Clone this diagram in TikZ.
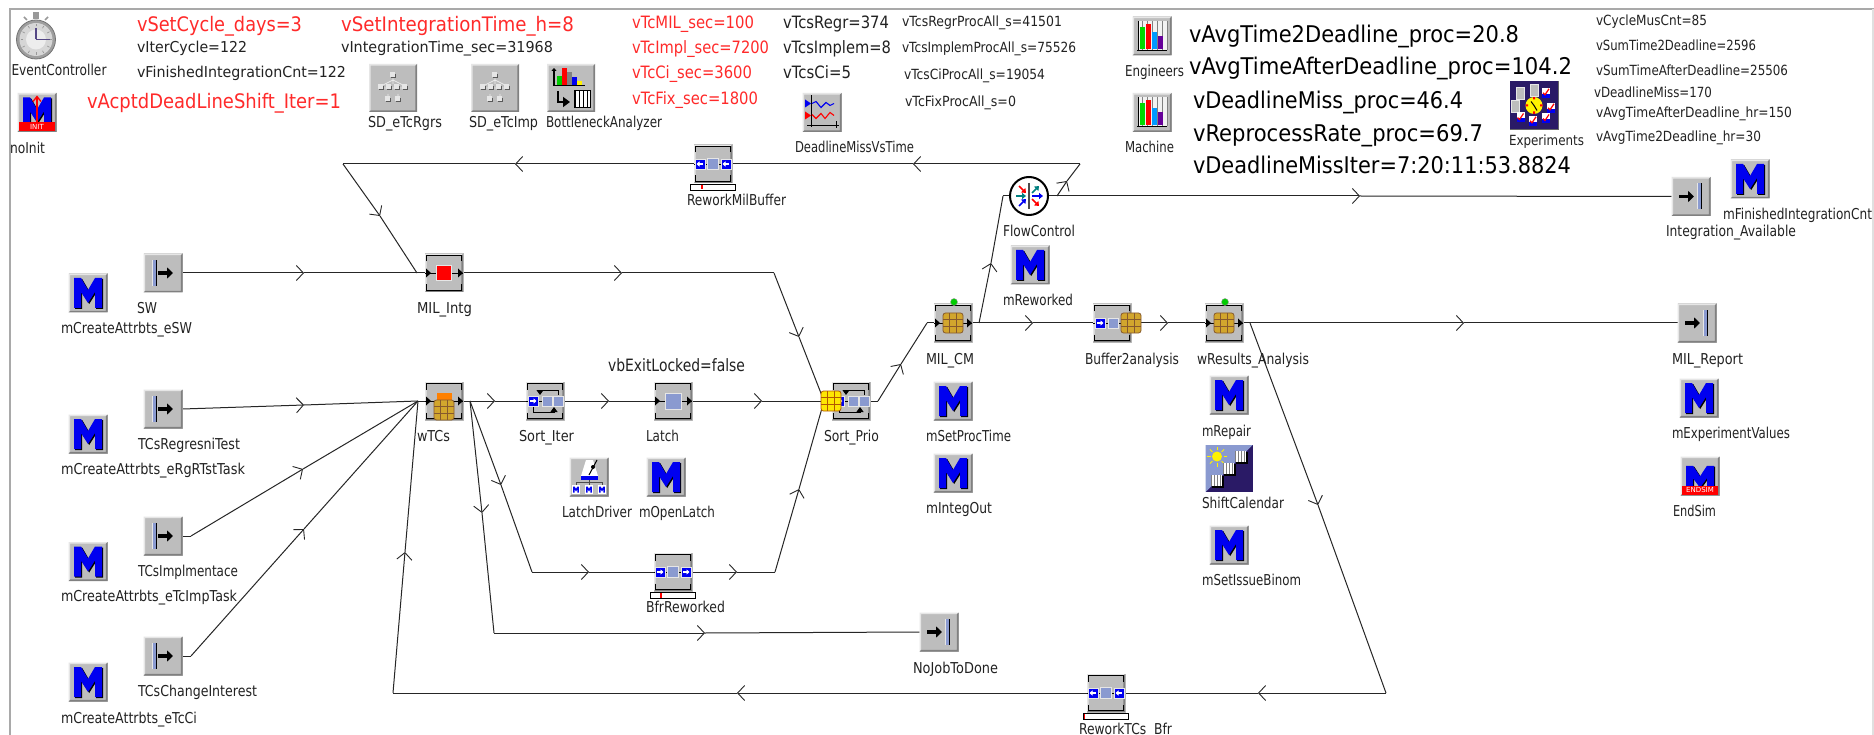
\documentclass[tikz,border=0pt]{standalone}
\usepackage{fontspec}
\usepackage{graphicx}
\setmainfont{DejaVu Sans}
\usetikzlibrary{arrows.meta,calc}
\definecolor{txt}{HTML}{222222}
\definecolor{rd}{HTML}{FF2A2A}
\definecolor{icg}{HTML}{BDBDBD}
\definecolor{ichi}{HTML}{E6E6E6}
\definecolor{icdk}{HTML}{808080}
\definecolor{mb}{HTML}{0000F0}
\definecolor{bg}{HTML}{8A9AD0}
\definecolor{frm}{HTML}{A9A9A9}
\definecolor{navy}{HTML}{2A1A66}
\pgfdeclarelayer{back}
\pgfsetlayers{back,main}
\tikzset{
  lab/.style={anchor=base west,inner sep=0pt,outer sep=0pt},
  ico/.style={rectangle,fill=icg,minimum size=39pt,inner sep=0pt,outer sep=0pt},
  bigico/.style={rectangle,fill=icg,minimum size=48pt,inner sep=0pt,outer sep=0pt},
  wire/.style={draw=black!85,line width=1pt},
  tip/.style={-{Straight Barb[length=7pt,width=15pt,line width=0.9pt]}},
}
\newcounter{tl}
\newcommand\tx[6][txt]{\stepcounter{tl}\node[lab,text=#1] (t\thetl) at (#2,#3+0.36*#5) {\fontsize{#5}{#5}\selectfont\resizebox{#4pt}{\height}{#6}};}
% wire with a chevron at the named middle point
\newcommand\wt[3]{\draw[wire,tip] (#1) -- (#2); \draw[wire] (#2) -- (#3);}
\newcommand\bev[1][19.5]{\pgfmathsetmacro\bo{#1}\pgfmathsetmacro\bi{#1-1.6}
  \fill[ichi] (-\bo,\bo)--(-\bo,-\bo)--(\bo,-\bo)--(\bi,-\bi)--(-\bi,-\bi)--(-\bi,\bi)--cycle;
  \fill[icdk] (-\bo,\bo)--(\bo,\bo)--(\bo,-\bo)--(\bi,-\bi)--(\bi,\bi)--(-\bi,\bi)--cycle;}
\newcommand\Mpoly{(-14,-15)--(-7,-15)--(0,-3)--(7,-15)--(14,-15)--(14,15)--(7,15)--(7,-1)--(0,10)--(-7,-1)--(-7,15)--(-14,15)--cycle}
\newcommand\Mshape{\fill[black,shift={(1.2,1)}] \Mpoly; \fill[mb] \Mpoly;}
\newcommand\micon[3]{\node[ico] (#1) at (#2,#3) {};
  \begin{scope}[shift={(#2,#3)}]\bev\Mshape\end{scope}}
\newcommand\arrowicon[1]{\draw[black,line width=3.2pt,-{Triangle[length=6pt,width=11pt]}] (#1,0) -- ++(15,0);}
\newcommand\srcicon[3]{\node[ico] (#1) at (#2,#3) {};
  \begin{scope}[shift={(#2,#3)}]\bev
  \fill[black] (-7,-13) rectangle (-5.6,13);\fill[bg] (-11.5,-13) rectangle (-7,13);\fill[ichi] (-11.5,-13) rectangle (-10.5,13);
  \arrowicon{-5}\end{scope}}
\newcommand\snkicon[3]{\node[ico] (#1) at (#2,#3) {};
  \begin{scope}[shift={(#2,#3)}]\bev
  \fill[black] (10,-13) rectangle (11.4,13);\fill[bg] (5.5,-13) rectangle (10,13);\fill[ichi] (5.5,-13) rectangle (6.5,13);
  \arrowicon{-12}\end{scope}}
\newcommand\block{\bev[19]
  \draw[black,line width=1.7pt] (-17.5,-11.5)--(-17.5,-17.5)--(17.5,-17.5)--(17.5,-11.5);
  \draw[black,line width=1.7pt] (-17.5,11.5)--(-17.5,17.5)--(17.5,17.5)--(17.5,11.5);
  \draw[black,line width=0.9pt] (-19,0)--(19,0);}
\newcommand\ports{\fill[black] (-18,-4.5)--(-13,0)--(-18,4.5)--cycle;\fill[black] (14,-4.5)--(19,0)--(14,4.5)--cycle;}
\newcommand\sq[4]{\fill[#4,draw=ichi,line width=0.8pt] (#1-#3,#2-#3) rectangle (#1+#3,#2+#3);}
\newcommand\waffle[5]{\begin{scope}[shift={(#1,#2)}]
  \filldraw[fill=#3,draw=#4,line width=0.8pt,rounded corners=2.5pt] (-#5,-#5) rectangle (#5,#5);
  \draw[#4,line width=0.9pt] (-#5/3,-#5)--(-#5/3,#5) (#5/3,-#5)--(#5/3,#5) (-#5,-#5/3)--(#5,-#5/3) (-#5,#5/3)--(#5,#5/3);\end{scope}}
\newcommand\bluebtn[2]{\begin{scope}[shift={(#1,0)}]\fill[mb,draw=ichi,line width=0.6pt] (-5,-5) rectangle (5,5);
  \draw[white,line width=1.2pt,-{Triangle[length=3pt,width=5pt]}] (-3*#2,0)--(3.5*#2,0);\end{scope}}
\newcommand\sorticon{\sq{2}{0}{5}{bg}\sq{13}{0}{5}{bg}
  \draw[black,line width=0.9pt,-{Triangle[length=5pt,width=7pt]}] (13,-6)--(13,-11)--(-5,-11)--(-5,-6);
  \draw[black,line width=0.9pt,-{Triangle[length=5pt,width=7pt]}] (-12,6)--(-12,11)--(9,11)--(9,6);
  \bluebtn{-12}{1}}
\newcommand\barbelow[1]{\fill[white,draw=black,line width=0.9pt] (-22.5,20.5) rectangle (22.5,26);\draw[red,line width=1.1pt] (#1,21)--(#1,25.5);}
\newcommand\chart[3]{\node[ico] (#1) at (#2,#3) {};
  \begin{scope}[shift={(#2,#3)}]\bev
  \fill[white!80!icg] (-14,-15) rectangle (15,14);
  \draw[icdk,line width=0.4pt,step=5] (-14,-15) grid (15,14);
  \fill[green!85!black] (-12,-9) rectangle (-7,13);\fill[red] (-6.5,-12) rectangle (-1,13);
  \fill[blue!40!cyan] (0,-4) rectangle (5,13);\fill[violet!80!blue] (5.5,0) rectangle (11,13);
  \draw[black,line width=0.8pt] (-15,14)--(15,14);\draw[black,line width=0.8pt] (-14,-15)--(-14,15);\end{scope}}
\newcommand\sdicon[3]{\node[bigico] (#1) at (#2,#3) {};
  \begin{scope}[shift={(#2,#3)}]\bev[24]
  \draw[white!70!icg,line width=0.8pt] (0,-11)--(0,-4) (-12,0)--(12,0) (-5,6)--(-5,10) (5,6)--(5,10) (0,-8)--(-12,-2) (0,-8)--(12,-2);
  \foreach \q/\r in {0/-13,-12/-1,-4/-1,4/-1,12/-1,-5/11,5/11}{
   \fill[black!65] (\q-2,\r-1) rectangle (\q+3,\r+3.5);\fill[ichi] (\q-3,\r-2.5) rectangle (\q+2,\r+2);}
  \end{scope}}
\begin{document}
\begin{tikzpicture}[x=1pt,y=-1pt]
\useasboundingbox (0,0) rectangle (1874,735);
\begin{pgfonlayer}{back}
\fill[white] (0,0) rectangle (1874,735);
\end{pgfonlayer}
% ---------- frame ----------
\draw[frm,line width=2pt] (10,735)--(10,9.5)--(1874,9.5);
\draw[black!12,line width=1.5pt] (1873,9.5)--(1873,735);
% ---------- top left ----------
\fill[black!40] (33,12.5) rectangle (39,19);
\draw[black!40,line width=1.6pt] (24,17)--(27,20) (48,17)--(45,20);
\node[circle,fill=black!38,draw=black!55,line width=0.8pt,minimum size=39pt,inner sep=0pt] (ec) at (36,39.5) {};
\fill[black!16] (36,39.5) circle (16.5);
\fill[black!7] (36,39.5) circle (10);
\foreach \a in {0,30,...,330}{\draw[black!40,line width=0.7pt] (36,39.5)++(\a:13)--++(\a:2.5);}
\draw[navy!80,line width=1.4pt] (36,39.5)--(50,39.5) (36,39.5)--(36,28);
\tx{11.5}{70}{95}{15}{EventController}
\micon{noinit}{37}{112.5}
\begin{scope}[shift={(37,112.5)}]
\fill[red] (-18,9.5) rectangle (18,18.5);
\draw[red,line width=1.3pt,-{Straight Barb[length=5pt,width=8pt]}] (0,10)--(0,-17);
\node[inner sep=0pt,text=white] (noinittxt) at (0,14) {\fontsize{7}{7}\selectfont INIT};
\end{scope}
\tx{10}{148}{35}{15}{noInit}
\tx[rd]{137}{24}{165}{20}{vSetCycle\_days=3}
\tx{137}{47}{110}{15}{vIterCycle=122}
\tx{137}{72}{209}{15}{vFinishedIntegrationCnt=122}
\tx[rd]{87}{101}{254}{20}{vAcptdDeadLineShift\_Iter=1}
\tx[rd]{341}{24}{233}{20}{vSetIntegrationTime\_h=8}
\tx{341}{47}{212}{15}{vIntegrationTime\_sec=31968}
\sdicon{sda}{393}{88}
\tx{368}{122}{74}{15}{SD\_eTcRgrs}
\sdicon{sdb}{495}{88}
\tx{469}{122}{69}{15}{SD\_eTcImp}
\node[bigico] (bot) at (571,88) {};
\begin{scope}[shift={(571,88)}]\bev[24]
\draw[black,line width=1.2pt,-{Triangle[length=3pt,width=5pt]}] (-17,-3)--(-17,-20);
\fill[green!80!black] (-14,-12) rectangle (-9,-3);\fill[red] (-9,-20) rectangle (-4,-3);
\fill[black!50] (-4,-16) rectangle (1,-3);\fill[mb] (1,-11) rectangle (6,-3);\fill[yellow] (6,-7) rectangle (11,-3);
\draw[black,line width=1.2pt] (-18,-2.5)--(14,-2.5);
\draw[black,line width=2.6pt,-{Triangle[length=7pt,width=10pt]}] (-13,3)--(-13,14)--(-1,14);
\fill[white] (3,2) rectangle (19,19);
\draw[black,line width=0.8pt,xstep=4,ystep=4.25] (3,2) grid (19,19);
\draw[black,line width=0.8pt] (3,2) rectangle (19,19);
\end{scope}
\tx{546}{122}{116}{15}{BottleneckAnalyzer}
\tx[rd]{632}{22}{122}{17}{vTcMIL\_sec=100}
\tx[rd]{632}{47}{137}{17}{vTcImpl\_sec=7200}
\tx[rd]{632}{72}{120}{17}{vTcCi\_sec=3600}
\tx[rd]{632}{98}{126}{17}{vTcFix\_sec=1800}
\tx{783}{22}{106}{17}{vTcsRegr=374}
\tx{783}{47}{108}{17}{vTcsImplem=8}
\tx{783}{72}{68}{17}{vTcsCi=5}
\tx{902}{21}{160}{14}{vTcsRegrProcAll\_s=41501}
\tx{902}{47}{174}{14}{vTcsImplemProcAll\_s=75526}
\tx{904}{74}{141}{14}{vTcsCiProcAll\_s=19054}
\tx{905}{101}{111}{14}{vTcFixProcAll\_s=0}
\node[ico] (dlm) at (822,112.5) {};
\begin{scope}[shift={(822,112.5)}]\bev
\draw[black,line width=0.9pt] (-15,13)--(17,13) (-11,-17)--(-11,15);
\fill[mb] (-17,-13)--(-11,-9)--(-17,-5)--cycle;\fill[red] (-17,-1)--(-11,3)--(-17,7)--cycle;
\draw[mb,line width=1.1pt] (-10,-9)--(-6,-11)--(-1,-5)--(4,-10)--(8,-7)--(12,-9);
\draw[red,line width=1.1pt] (-10,2)--(-6,6)--(-1,1)--(3,6)--(8,0)--(12,3);
\draw[black,line width=0.7pt] (14,9)--(14,16);
\end{scope}
\tx{795}{147}{119}{15}{DeadlineMissVsTime}
\chart{engineers}{1152}{36}
\tx{1125}{71}{59}{15}{Engineers}
\chart{machine}{1152}{112.5}
\tx{1125}{147}{49}{15}{Machine}
\tx[black]{1189}{34}{330}{23}{vAvgTime2Deadline\_proc=20.8}
\tx[black]{1189}{66}{383}{23}{vAvgTimeAfterDeadline\_proc=104.2}
\tx[black]{1193}{100}{270}{23}{vDeadlineMiss\_proc=46.4}
\tx[black]{1193}{133}{290}{23}{vReprocessRate\_proc=69.7}
\tx[black]{1193}{165}{378}{23}{vDeadlineMissIter=7:20:11:53.8824}
\node[bigico,fill=navy] (exper) at (1534,105.5) {};
\begin{scope}[shift={(1534,105.5)}]
\draw[black!60,line width=1pt] (-24,24)--(24,24)--(24,-24);
\fill[yellow] (0,0) circle (8.5);\draw[black,line width=1pt] (0,0)--(3,5) (0,0)--(-3,-4);
\fill[red] (-1,-8.5) rectangle (1,-6) (-1,6) rectangle (1,8.5) (-8.5,-1) rectangle (-6,1) (6,-1) rectangle (8.5,1);
\foreach \q/\r in {-13.5/-12,0/-15.5,-18.5/1}{\fill[icg,draw=ichi,line width=0.5pt] (\q-4,\r-6) rectangle (\q+4,\r+6);}
\foreach \q/\r in {12/-12.7,17/2.3,12/13,-1/15.3,-13.5/12}{\fill[white] (\q-4,\r-5) rectangle (\q+4,\r+5);\fill[mb] (\q-4,\r+1) rectangle (\q+4,\r+5);\draw[red,line width=1.2pt] (\q-3,\r)--(\q-1,\r+2)--(\q+3,\r-4);}
\end{scope}
\tx{1509}{140}{75}{14}{Experiments}
\tx{1596}{20}{111}{14}{vCycleMusCnt=85}
\tx{1596}{45}{160}{14}{vSumTime2Deadline=2596}
\tx{1596}{70}{192}{14}{vSumTimeAfterDeadline=25506}
\tx{1594}{92}{118}{14}{vDeadlineMiss=170}
\tx{1596}{112}{196}{14}{vAvgTimeAfterDeadline\_hr=150}
\tx{1596}{136}{165}{14}{vAvgTime2Deadline\_hr=30}
\snkicon{ia}{1691}{196.5}
\tx{1666}{231}{130}{15}{Integration\_Available}
\micon{mfin}{1750}{179}
\tx{1723}{214}{149}{15}{mFinishedIntegrationCnt}
% ---------- left column ----------
\micon{ma}{88}{293}\tx{61}{328}{131}{15}{mCreateAttrbts\_eSW}
\srcicon{sw}{163}{273}\tx{137}{308}{20}{15}{SW}
\micon{mb1}{88}{434}\tx{61}{469}{184}{15}{mCreateAttrbts\_eRgRTstTask}
\srcicon{tr}{163}{409}\tx{138}{444}{102}{15}{TCsRegresniTest}
\micon{mc}{88}{561.5}\tx{61}{596}{176}{15}{mCreateAttrbts\_eTcImpTask}
\srcicon{ti}{163}{536}\tx{138}{571}{100}{15}{TCsImplmentace}
\micon{md}{88}{682}\tx{61}{718}{136}{15}{mCreateAttrbts\_eTcCi}
\srcicon{tc}{163}{656}\tx{138}{691}{119}{15}{TCsChangeInterest}
% ---------- processes ----------
\node[ico] (mi) at (444,273) {};
\begin{scope}[shift={(444,273)}]\block\ports\sq{0}{0}{7.5}{red}\end{scope}
\tx{417}{308}{55}{15}{MIL\_Intg}
\node[ico] (wt) at (444,401) {};
\begin{scope}[shift={(444,401)}]\block\ports\fill[orange] (-7.5,-8) rectangle (7.5,6);\waffle{0}{9}{brown!70!yellow}{brown!70!black}{10}\end{scope}
\tx{417}{436}{33}{15}{wTCs}
\node[ico] (si) at (545,401) {};
\begin{scope}[shift={(545,401)}]\block\sorticon\end{scope}
\tx{519}{436}{55}{15}{Sort\_Iter}
\node[ico] (la) at (673,401) {};
\begin{scope}[shift={(673,401)}]\block\ports\sq{0}{0}{8}{bg}\end{scope}
\tx{646}{436}{33}{15}{Latch}
\tx{608}{365}{137}{17}{vbExitLocked=false}
\node[ico] (sp) at (851,401) {};
\begin{scope}[shift={(851,401)}]\block\sorticon\waffle{-20}{0}{yellow!90!orange}{orange!70!black}{10}\end{scope}
\tx{824}{436}{55}{15}{Sort\_Prio}
\node[ico] (mc) at (953,323) {};
\begin{scope}[shift={(953,323)}]\block\ports\waffle{0}{0}{brown!70!yellow}{brown!70!black}{10}\end{scope}
\node[circle,fill=green!80!black,draw=black!40,line width=0.4pt,minimum size=7pt,inner sep=0pt] (mcled) at (954,302) {};
\tx{926}{359}{48}{15}{MIL\_CM}
\node[ico] (bu) at (1112,323) {};
\begin{scope}[shift={(1112,323)}]\block\bluebtn{-12}{1}\sq{1}{0}{5}{bg}\waffle{19}{0}{brown!70!yellow}{brown!70!black}{10}\end{scope}
\tx{1085}{359}{94}{15}{Buffer2analysis}
\node[ico] (wr) at (1224,323) {};
\begin{scope}[shift={(1224,323)}]\block\ports\waffle{0}{0}{brown!70!yellow}{brown!70!black}{10}\end{scope}
\node[circle,fill=green!80!black,draw=black!40,line width=0.4pt,minimum size=7pt,inner sep=0pt] (wrled) at (1225,302) {};
\tx{1197}{359}{112}{15}{wResults\_Analysis}
% flow control
\node[circle,fill=white,draw=black,line width=2pt,minimum size=38pt,inner sep=0pt] (fc) at (1029,196) {};
\begin{scope}[shift={(1029,196)}]
\draw[black!70,line width=1.4pt] (0,-13)--(0,13);
\tikzset{fa/.style={line width=1.5pt,-{Triangle[length=4pt,width=6pt]}}}
\draw[fa,red] (-10,-10)--(-3,-3);\draw[fa,teal] (-13,0)--(-3,0);\draw[fa,mb] (-10,10)--(-3,3);
\draw[fa,teal] (3,-3)--(10,-10);\draw[fa,mb] (3,0)--(14,0);\draw[fa,red] (3,3)--(10,10);
\end{scope}
\tx{1003}{231}{72}{15}{FlowControl}
\micon{mrew}{1030}{265}\tx{1003}{300}{70}{15}{mReworked}
% buffers
\newcommand\bufbody[3]{\node[ico] (#1) at (#2,#3) {};}
\bufbody{rm}{713}{164}
\begin{scope}[shift={(713,164)}]\block\sq{0}{0}{5.5}{bg}\bluebtn{-13}{-1}\bluebtn{13}{-1}\barbelow{-11}\end{scope}
\tx{687}{200}{99}{15}{ReworkMilBuffer}
\bufbody{br}{673}{572}
\begin{scope}[shift={(673,572)}]\block\sq{0}{0}{5.5}{bg}\bluebtn{-13}{1}\bluebtn{13}{1}\barbelow{-12}\end{scope}
\tx{646}{607}{79}{15}{BfrReworked}
\bufbody{rt}{1106}{693}
\begin{scope}[shift={(1106,693)}]\block\sq{0}{0}{5.5}{bg}\bluebtn{-13}{-1}\bluebtn{13}{-1}\barbelow{-21.5}\end{scope}
\tx{1079}{729}{93}{15}{ReworkTCs\ \ Bfr}
% misc icons
\node[ico] (ld) at (589,477) {};
\begin{scope}[shift={(589,477)}]\bev
\fill[white] (-8,-1)--(-3,-17)--(4,-17)--(9,-1)--cycle;
\fill[mb] (-8,-1) rectangle (9,3);
\draw[black,line width=1pt] (0,-2)--(8,-17);\fill[black] (4,-10) circle (2);
\draw[black!70,line width=0.7pt] (-13,8)--(-13,5)--(13,5)--(13,8) (0,3)--(0,8);
\foreach \q in {-13,0,13}{\fill[white] (\q-4,8) rectangle (\q+4,17);\begin{scope}[shift={(\q,12.5)},scale=0.2]\fill[mb] \Mpoly;\end{scope}}
\end{scope}
\tx{562}{512}{70}{15}{LatchDriver}
\micon{mol}{666}{477}\tx{639}{512}{76}{15}{mOpenLatch}
\snkicon{nj}{939}{632}\tx{913}{668}{85}{15}{NoJobToDone}
\micon{msp}{953}{401}\tx{926}{436}{85}{15}{mSetProcTime}
\micon{mio}{953}{473}\tx{926}{508}{66}{15}{mIntegOut}
\micon{mrp}{1229}{395}\tx{1202}{431}{49}{15}{mRepair}
\node[bigico,minimum size=47pt,fill=navy] (sc) at (1229,468.5) {};
\begin{scope}[shift={(1229,468.5)}]
\fill[bg] (-23.5,-23.5)--(23.5,-23.5)--(-23.5,23.5)--cycle;
\fill[yellow] (-12,-12) circle (5);
\foreach \a in {0,45,...,315}{\draw[yellow,line width=0.9pt] (-12,-12)++(\a:6.5)--++(\a:3.5);}
\foreach \q in {12,0,-12}{\pgfmathsetmacro\r{-\q}\begin{scope}[shift={(\q,\r)}]
\fill[black] (-5,-5) rectangle (7,7);\fill[white] (-6,-6) rectangle (5,5);\draw[black!50,line width=0.4pt,step=2.75] (-6,-6) grid (5,5);\end{scope}}
\end{scope}
\tx{1202}{503}{82}{15}{ShiftCalendar}
\micon{msi}{1229}{545}\tx{1202}{580}{99}{15}{mSetIssueBinom}
\snkicon{mr}{1697}{323}\tx{1672}{359}{71}{15}{MIL\_Report}
\micon{mex}{1699}{398}\tx{1672}{433}{118}{15}{mExperimentValues}
\node[ico] (es) at (1700,476) {};
\begin{scope}[shift={(1700,476)}]\bev\begin{scope}[yshift=-3pt,yscale=0.88]\Mshape\end{scope}
\fill[red] (-18,9.5) rectangle (18,18.5);
\node[inner sep=0pt,text=white] (estxt) at (0,14) {\fontsize{7}{7}\selectfont ENDSIM};
\end{scope}
\tx{1673}{511}{43}{15}{EndSim}
% ---------- connectors ----------
\begin{pgfonlayer}{back}
\coordinate (a1) at (304,273);
\wt{sw.east}{a1}{mi.west}
\coordinate (b1) at (304,405);\coordinate (wtin) at (418,401);
\wt{tr.east}{b1}{wtin}
\coordinate (c0) at (191,536);\coordinate (c1) at (303,469);
\draw[wire] (ti.east)--(c0);\wt{c0}{c1}{wtin}
\coordinate (d0) at (191,656);\coordinate (d1) at (304,529);
\draw[wire] (tc.east)--(d0);\wt{d0}{d1}{wtin}
\draw[wire] (wtin)--(wt.west);
\coordinate (e1) at (622,273);\coordinate (e2) at (774,273);\coordinate (e3) at (799,337);\coordinate (spin) at (824,401);
\wt{mi.east}{e1}{e2}\wt{e2}{e3}{spin}
\coordinate (f1) at (495,401);\wt{wt.east}{f1}{si.west}
\coordinate (f2) at (609,401);\wt{si.east}{f2}{la.west}
\coordinate (f3) at (762,401);\wt{la.east}{f3}{sp.west}
\coordinate (g1) at (878,401);\coordinate (g2) at (901,364);\coordinate (g3) at (927,323);
\draw[wire] (sp.east)--(g1);\wt{g1}{g2}{g3}\draw[wire] (g3)--(mc.west);
\coordinate (h0) at (979,323);\coordinate (h1) at (991,263);\coordinate (h2) at (1003,196);
\draw[wire] (mc.east)--(h0);\wt{h0}{h1}{h2}\draw[wire] (h2)--(fc.west);
\coordinate (i1) at (1033,323);\wt{mc.east}{i1}{bu.west}
\coordinate (i2) at (1168,323);\wt{bu.east}{i2}{wr.west}
\coordinate (i3) at (1464,323);\wt{wr.east}{i3}{mr.west}
\coordinate (j1) at (1360,196);\wt{fc.east}{j1}{ia.west}
\coordinate (k0) at (1057,196);\coordinate (k1) at (1067,181);\coordinate (k2) at (1080,164);
\wt{k0}{k1}{k2}
\coordinate (k3) at (913,164);\wt{k2}{k3}{rm.east}
\coordinate (k4) at (515,164);\coordinate (k5) at (343,164);\wt{rm.west}{k4}{k5}
\coordinate (k6) at (380,216);\coordinate (k7) at (417,273);\wt{k5}{k6}{k7}
\coordinate (l0) at (1250,323);\coordinate (l1) at (1318,505);\coordinate (l2) at (1386,693);
\wt{l0}{l1}{l2}
\coordinate (l3) at (1258,693);\wt{l2}{l3}{rt.east}
\coordinate (l4) at (737,693);\coordinate (l5) at (393,693);\wt{rt.west}{l4}{l5}
\coordinate (l6) at (405,552);\wt{l5}{l6}{wtin}
\coordinate (m0) at (470,401);\coordinate (m1) at (482,513);\coordinate (m2) at (494,633);
\wt{m0}{m1}{m2}
\coordinate (m3) at (705,633);\wt{m2}{m3}{nj.west}
\coordinate (n1) at (501,485);\coordinate (n2) at (532,572);\wt{m0}{n1}{n2}
\coordinate (n3) at (589,572);\wt{n2}{n3}{br.west}
\coordinate (n4) at (737,572);\coordinate (n5) at (775,572);\wt{br.east}{n4}{n5}
\coordinate (n6) at (799,489);\wt{n5}{n6}{spin}
\end{pgfonlayer}
\end{tikzpicture}
\end{document}
